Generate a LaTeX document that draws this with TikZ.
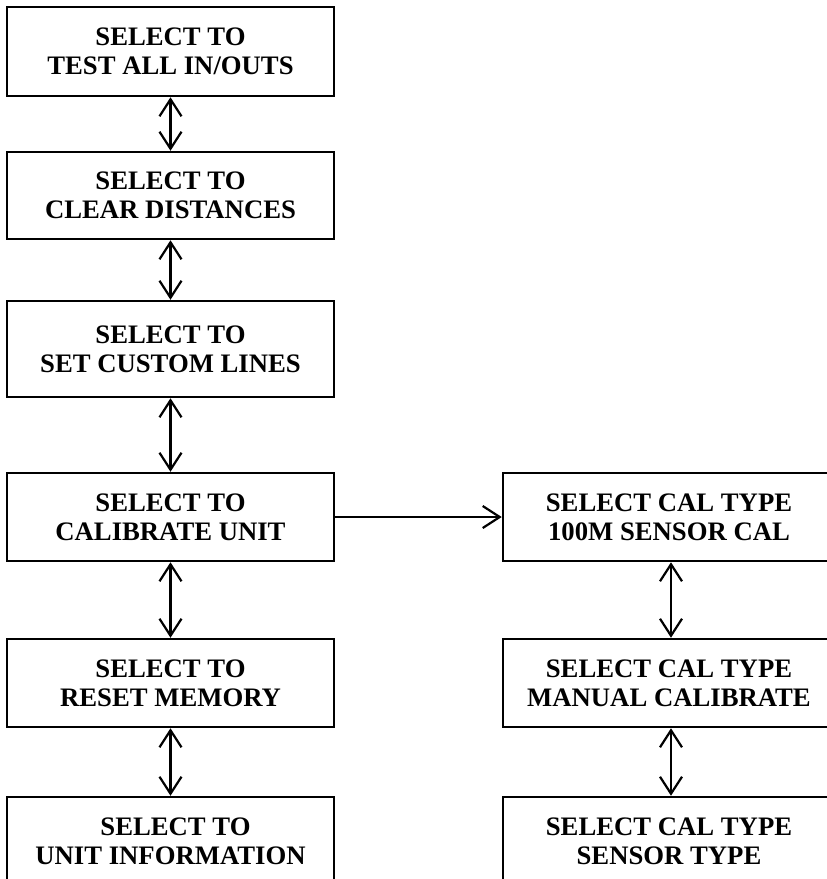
\documentclass[tikz,border=0pt]{standalone}
\usepackage{fontspec}
\setmainfont{Liberation Serif}
\usetikzlibrary{arrows.meta}
\begin{document}
\begin{tikzpicture}[x=1pt,y=-1pt,
  menubox/.style={draw, line width=2.5pt, inner sep=0pt, align=center,
    font=\fontsize{26.7}{29}\selectfont\bfseries},
  leftbox/.style={menubox, minimum width=327pt},
  rightbox/.style={menubox, minimum width=332pt},
  link/.style={line width=2.2pt, {Straight Barb[length=17pt,width=22pt,line width=2.2pt]}-{Straight Barb[length=17pt,width=22pt,line width=2.2pt]}},
  fwd/.style={line width=2.2pt, -{Straight Barb[length=17pt,width=22pt,line width=2.2pt]}}]
\useasboundingbox (0,0) rectangle (827,879);
\clip (0,0) rectangle (827,879);
\node[leftbox, minimum height=89pt] (b1) at (170.5,51.5) {SELECT TO\\TEST ALL IN/OUTS};
\node[leftbox, minimum height=87pt] (b2) at (170.5,195.5) {SELECT TO\\CLEAR DISTANCES};
\node[leftbox, minimum height=96pt] (b3) at (170.5,349) {SELECT TO\\SET CUSTOM LINES};
\node[leftbox, minimum height=88pt] (b4) at (170.5,517) {SELECT TO\\CALIBRATE UNIT};
\node[leftbox, minimum height=88pt] (b5) at (170.5,683) {SELECT TO\\RESET MEMORY};
\node[leftbox, minimum height=88pt] (b6) at (170.5,841) {\hspace{10pt}SELECT TO\\UNIT INFORMATION};
\node[rightbox, minimum height=88pt] (r1) at (669,517) {SELECT CAL TYPE\\100M SENSOR CAL};
\node[rightbox, minimum height=88pt] (r2) at (669,683) {SELECT CAL TYPE\\MANUAL CALIBRATE};
\node[rightbox, minimum height=88pt] (r3) at (669,841) {SELECT CAL TYPE\\SENSOR TYPE};
\draw[link] (b1.south) -- (b2.north);
\draw[link] (b2.south) -- (b3.north);
\draw[link] (b3.south) -- (b4.north);
\draw[link] (b4.south) -- (b5.north);
\draw[link] (b5.south) -- (b6.north);
\draw[link] ([xshift=2pt]r1.south) -- ([xshift=2pt]r2.north);
\draw[link] ([xshift=2pt]r2.south) -- ([xshift=2pt]r3.north);
\draw[fwd] (b4.east) -- (r1.west);
\end{tikzpicture}
\end{document}
